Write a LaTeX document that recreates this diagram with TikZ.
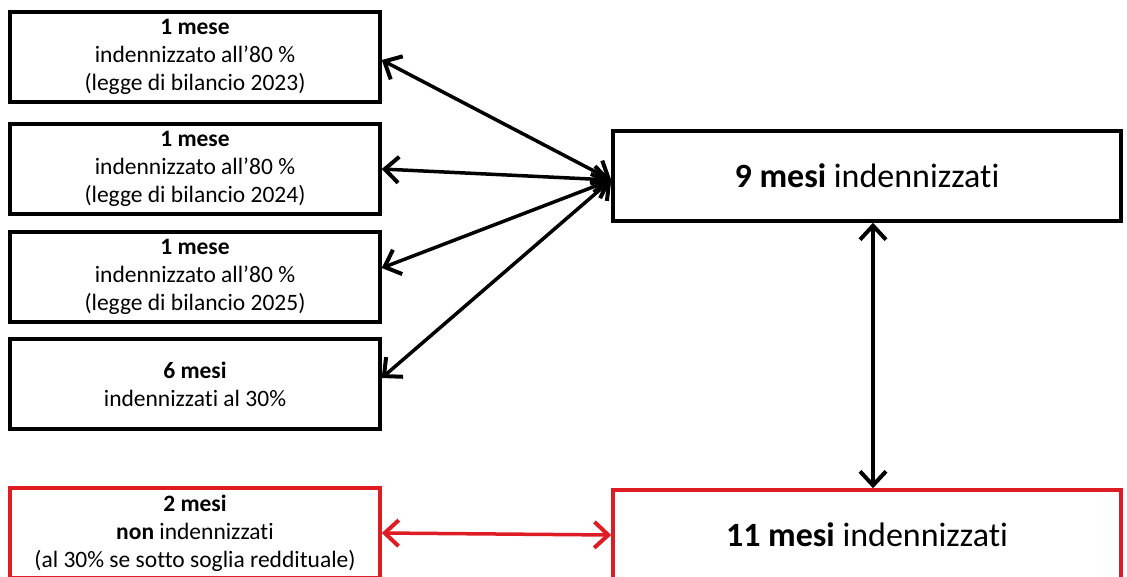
\documentclass[tikz,border=0pt]{standalone}
\usepackage{fontspec}
\setmainfont{Carlito}[Ligatures={NoCommon}]
\usetikzlibrary{arrows.meta}
\definecolor{rosso}{RGB}{222,28,36}
\begin{document}
\begin{tikzpicture}[x=1pt,y=-1pt,
    box/.style={draw,line width=3.5pt,minimum width=370pt,minimum height=90pt,
      inner sep=0pt,align=center,font=\fontsize{23.5}{28}\selectfont},
    bigbox/.style={box,minimum width=508pt,font=\fontsize{34}{40}\selectfont},
    punta/.tip={Straight Barb[length=14pt,width=26pt,line width=4pt]},
    freccia/.style={line width=3.5pt,punta-punta}]
  \useasboundingbox (0,0) rectangle (1127,576);
  \clip (0,0) rectangle (1127,576);
  \begin{scope}
    \node[box] (m1) at (195,57) {\textbf{1 mese}\\indennizzato all’80 \%\\(legge di bilancio 2023)};
    \node[box] (m2) at (195,169) {\textbf{1 mese}\\indennizzato all’80 \%\\(legge di bilancio 2024)};
    \node[box] (m3) at (195,277) {\textbf{1 mese}\\indennizzato all’80 \%\\(legge di bilancio 2025)};
    \node[box] (m6) at (195,384) {\textbf{6 mesi}\\indennizzati al 30\%};
    \node[box,draw=rosso] (m2non) at (195,533)
      {\textbf{2 mesi}\\\textbf{non} indennizzati\\(al 30\% se sotto soglia reddituale)};
  \end{scope}
  \begin{scope}
    \node[bigbox] (m9) at (867,176) {\textbf{9 mesi} indennizzati};
    \node[bigbox,draw=rosso] (m11) at (867,535) {\textbf{11 mesi} indennizzati};
  \end{scope}
  \draw[freccia] ([yshift=-3pt]m1.east) -- ([yshift=-4pt]m9.west);
  \draw[freccia] (m2.east) -- ([yshift=-4pt]m9.west);
  \draw[freccia] ([yshift=9pt]m3.east) -- ([yshift=-4pt]m9.west);
  \draw[freccia] ([yshift=6pt]m6.east) -- ([yshift=-4pt]m9.west);
  \draw[freccia] ([xshift=6pt]m9.south) -- ([xshift=6pt]m11.north);
  \draw[freccia,rosso] (m2non.east) -- (m11.west);
\end{tikzpicture}
\end{document}
